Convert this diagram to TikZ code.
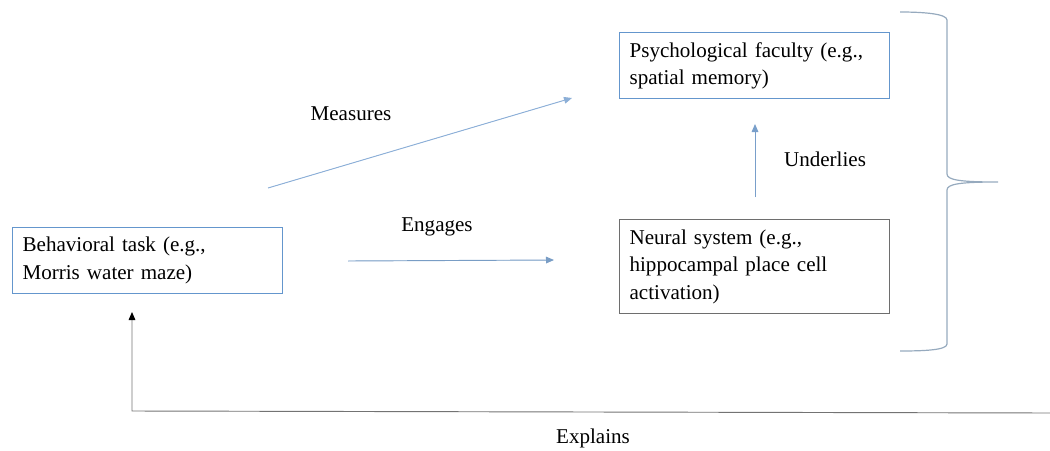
\documentclass[tikz,border=0pt]{standalone}
\usepackage{fontspec}
\setmainfont{Liberation Serif}
\usetikzlibrary{arrows.meta}
\definecolor{boxblue}{RGB}{100,150,205}
\definecolor{boxgrey}{RGB}{110,110,110}
\definecolor{arrblue}{RGB}{120,165,215}
\definecolor{arrlight}{RGB}{140,175,215}
\definecolor{bracecol}{RGB}{150,170,190}
\tikzset{
  x=0.75pt, y=-0.75pt,
  box/.style={draw, line width=0.9pt, anchor=north west, align=left,
    inner xsep=7.5pt, inner ysep=2pt, text width=187.5pt, minimum width=202.5pt,
    font=\fontsize{15.8}{20.6}\selectfont},
  lbl/.style={font=\fontsize{15.8}{20.6}\selectfont, inner sep=0pt},
  arr/.style={line width=0.7pt, -{Triangle[length=6pt,width=5pt]}},
}
\begin{document}
\begin{tikzpicture}
\useasboundingbox (0,0) rectangle (1050,450);
\node[box, draw=boxblue, minimum height=49.5pt] (task) at (12,227)
  {Behavioral task (e.g.,\\Morris water maze)};
\node[box, draw=boxblue, minimum height=49.5pt] (psych) at (619,32)
  {Psychological faculty (e.g.,\\spatial memory)};
\node[box, draw=boxgrey, minimum height=70.5pt] (neural) at (619,219)
  {Neural system (e.g.,\\hippocampal place cell\\activation)};
% connector end points
\coordinate (mA) at (268,188); \coordinate (mB) at (572,98);
\coordinate (eA) at (348,261); \coordinate (eB) at (554,260);
\coordinate (uA) at (755,197); \coordinate (uB) at (755,124);
\coordinate (xA) at (1050,413); \coordinate (xC) at (132,411); \coordinate (xB) at (132,312);
\draw[arr, draw=arrlight, fill=arrblue] (mA) -- (mB);
\draw[arr, draw=arrblue!80!gray, fill=arrblue] (eA) -- (eB);
\draw[arr, draw=arrblue!85!gray, fill=arrblue] (uA) -- (uB);
\draw[arr, draw=gray!90!black, -{Triangle[length=6pt,width=5pt,black]}] (xA) -- (xC) -- (xB);
\node[lbl] (lm) at (351,114) {Measures};
\node[lbl] (le) at (437,227) {Engages};
\node[lbl] (lu) at (825,159) {Underlies};
\node[lbl] (lx) at (593,438) {Explains};
% brace
\draw[bracecol, line width=0.9pt]
  (900,12) .. controls (925,12) and (947,14) .. (947,20)
  -- (947,174) .. controls (947,180) and (960,182) .. (998,182)
  (998,182) .. controls (960,182) and (947,184) .. (947,190)
  -- (947,344) .. controls (947,350) and (925,351) .. (900,351);
\end{tikzpicture}
\end{document}
